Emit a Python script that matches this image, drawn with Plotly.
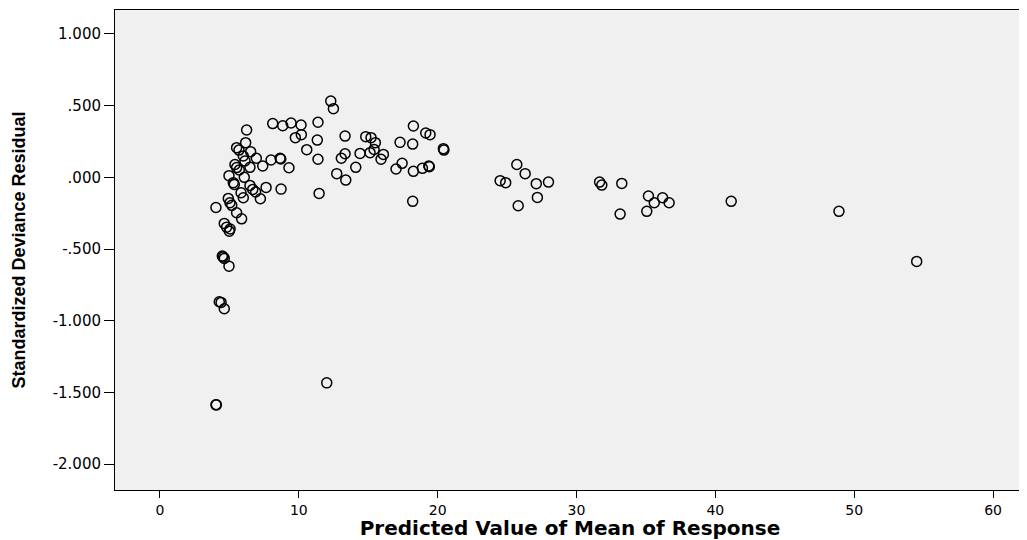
import plotly.graph_objects as go

predicted = [
    12.30, 12.49, 6.24, 8.12, 8.84, 9.44, 10.16, 11.38, 9.75, 10.18,
    11.33, 10.57, 13.33, 14.82, 15.20, 15.51, 18.25, 19.14, 19.45, 17.29,
    18.20, 20.41, 20.45, 13.33, 13.06, 14.41, 15.13, 15.42, 16.09, 15.92,
    11.38, 14.10, 12.73, 13.38, 11.46, 17.44, 17.00, 18.25, 18.90, 19.36,
    19.40, 18.20, 8.65, 8.70, 9.29, 8.72, 8.00, 7.40, 7.64, 7.23,
    6.94, 6.53, 6.17, 5.52, 5.69, 6.00, 6.12, 6.48, 5.40, 5.52,
    5.71, 6.07, 4.97, 5.28, 5.35, 6.48, 6.68, 6.89, 5.84, 6.00,
    4.92, 5.04, 5.17, 5.52, 5.88, 4.03, 4.63, 4.80, 4.99, 4.49,
    4.63, 4.97, 4.27, 4.40, 4.63, 12.01, 4.03, 4.06, 25.70, 26.30,
    24.50, 24.90, 27.10, 27.98, 27.18, 25.80, 31.66, 31.82, 33.26, 33.14,
    35.18, 36.20, 35.60, 36.67, 35.06, 41.14, 48.90, 54.50, 4.55, 5.05,
]
residual = [
    0.532, 0.479, 0.330, 0.375, 0.360, 0.379, 0.365, 0.384, 0.277, 0.298,
    0.260, 0.193, 0.288, 0.284, 0.277, 0.242, 0.358, 0.309, 0.298, 0.244,
    0.232, 0.200, 0.190, 0.165, 0.133, 0.167, 0.172, 0.195, 0.160, 0.126,
    0.126, 0.070, 0.026, -0.019, -0.112, 0.098, 0.058, 0.042, 0.063, 0.079,
    0.074, -0.167, 0.133, 0.128, 0.067, -0.082, 0.121, 0.079, -0.070, -0.149,
    0.133, 0.179, 0.242, 0.207, 0.190, 0.149, 0.114, 0.070, 0.090, 0.068,
    0.051, 0.000, 0.012, -0.037, -0.049, -0.056, -0.084, -0.102, -0.107, -0.142,
    -0.147, -0.177, -0.195, -0.247, -0.289, -0.210, -0.321, -0.347, -0.375, -0.549,
    -0.565, -0.619, -0.867, -0.872, -0.916, -1.433, -1.586, -1.586, 0.090, 0.026,
    -0.023, -0.037, -0.044, -0.033, -0.140, -0.198, -0.033, -0.054, -0.042, -0.256,
    -0.130, -0.142, -0.177, -0.177, -0.237, -0.167, -0.237, -0.586, -0.555, -0.360,
]

x_ticks = [0, 10, 20, 30, 40, 50, 60]
y_ticks = [1.0, 0.5, 0.0, -0.5, -1.0, -1.5, -2.0]
y_tick_labels = ["1.000", ".500", ".000", "-.500", "-1.000", "-1.500", "-2.000"]

fig = go.Figure(go.Scatter(
    x=predicted, y=residual, mode="markers",
    marker=dict(symbol="circle-open", size=10, color="black",
                line=dict(color="black", width=1.5)),
    hoverinfo="x+y",
))

fig.update_layout(
    width=1019, height=532,
    margin=dict(l=107, r=2, t=2, b=50),
    paper_bgcolor="white", plot_bgcolor="#f0f0f0",
    showlegend=False,
    font=dict(family="DejaVu Sans, Liberation Sans, sans-serif", color="black", size=14),
)
fig.update_xaxes(
    range=[-3.24, 62.3], tickvals=x_ticks, ticks="outside", ticklen=7,
    tickcolor="black", showgrid=False, zeroline=False,
    showline=True, linecolor="black", linewidth=1, mirror=True,
    tickfont=dict(size=14),
    title=dict(text="<b>Predicted Value of Mean of Response</b>",
               font=dict(size=20), standoff=4),
)
fig.update_yaxes(
    range=[-2.18, 1.167], tickvals=y_ticks, ticktext=y_tick_labels,
    ticks="outside", ticklen=10, tickcolor="black",
    showgrid=False, zeroline=False,
    showline=True, linecolor="black", linewidth=1, mirror=True,
    tickfont=dict(size=15),
    title=dict(text="<b>Standardized Deviance Residual</b>",
               font=dict(size=18, family="Liberation Sans, Arial, sans-serif"),
               standoff=22),
)

fig.write_html("out.html")
